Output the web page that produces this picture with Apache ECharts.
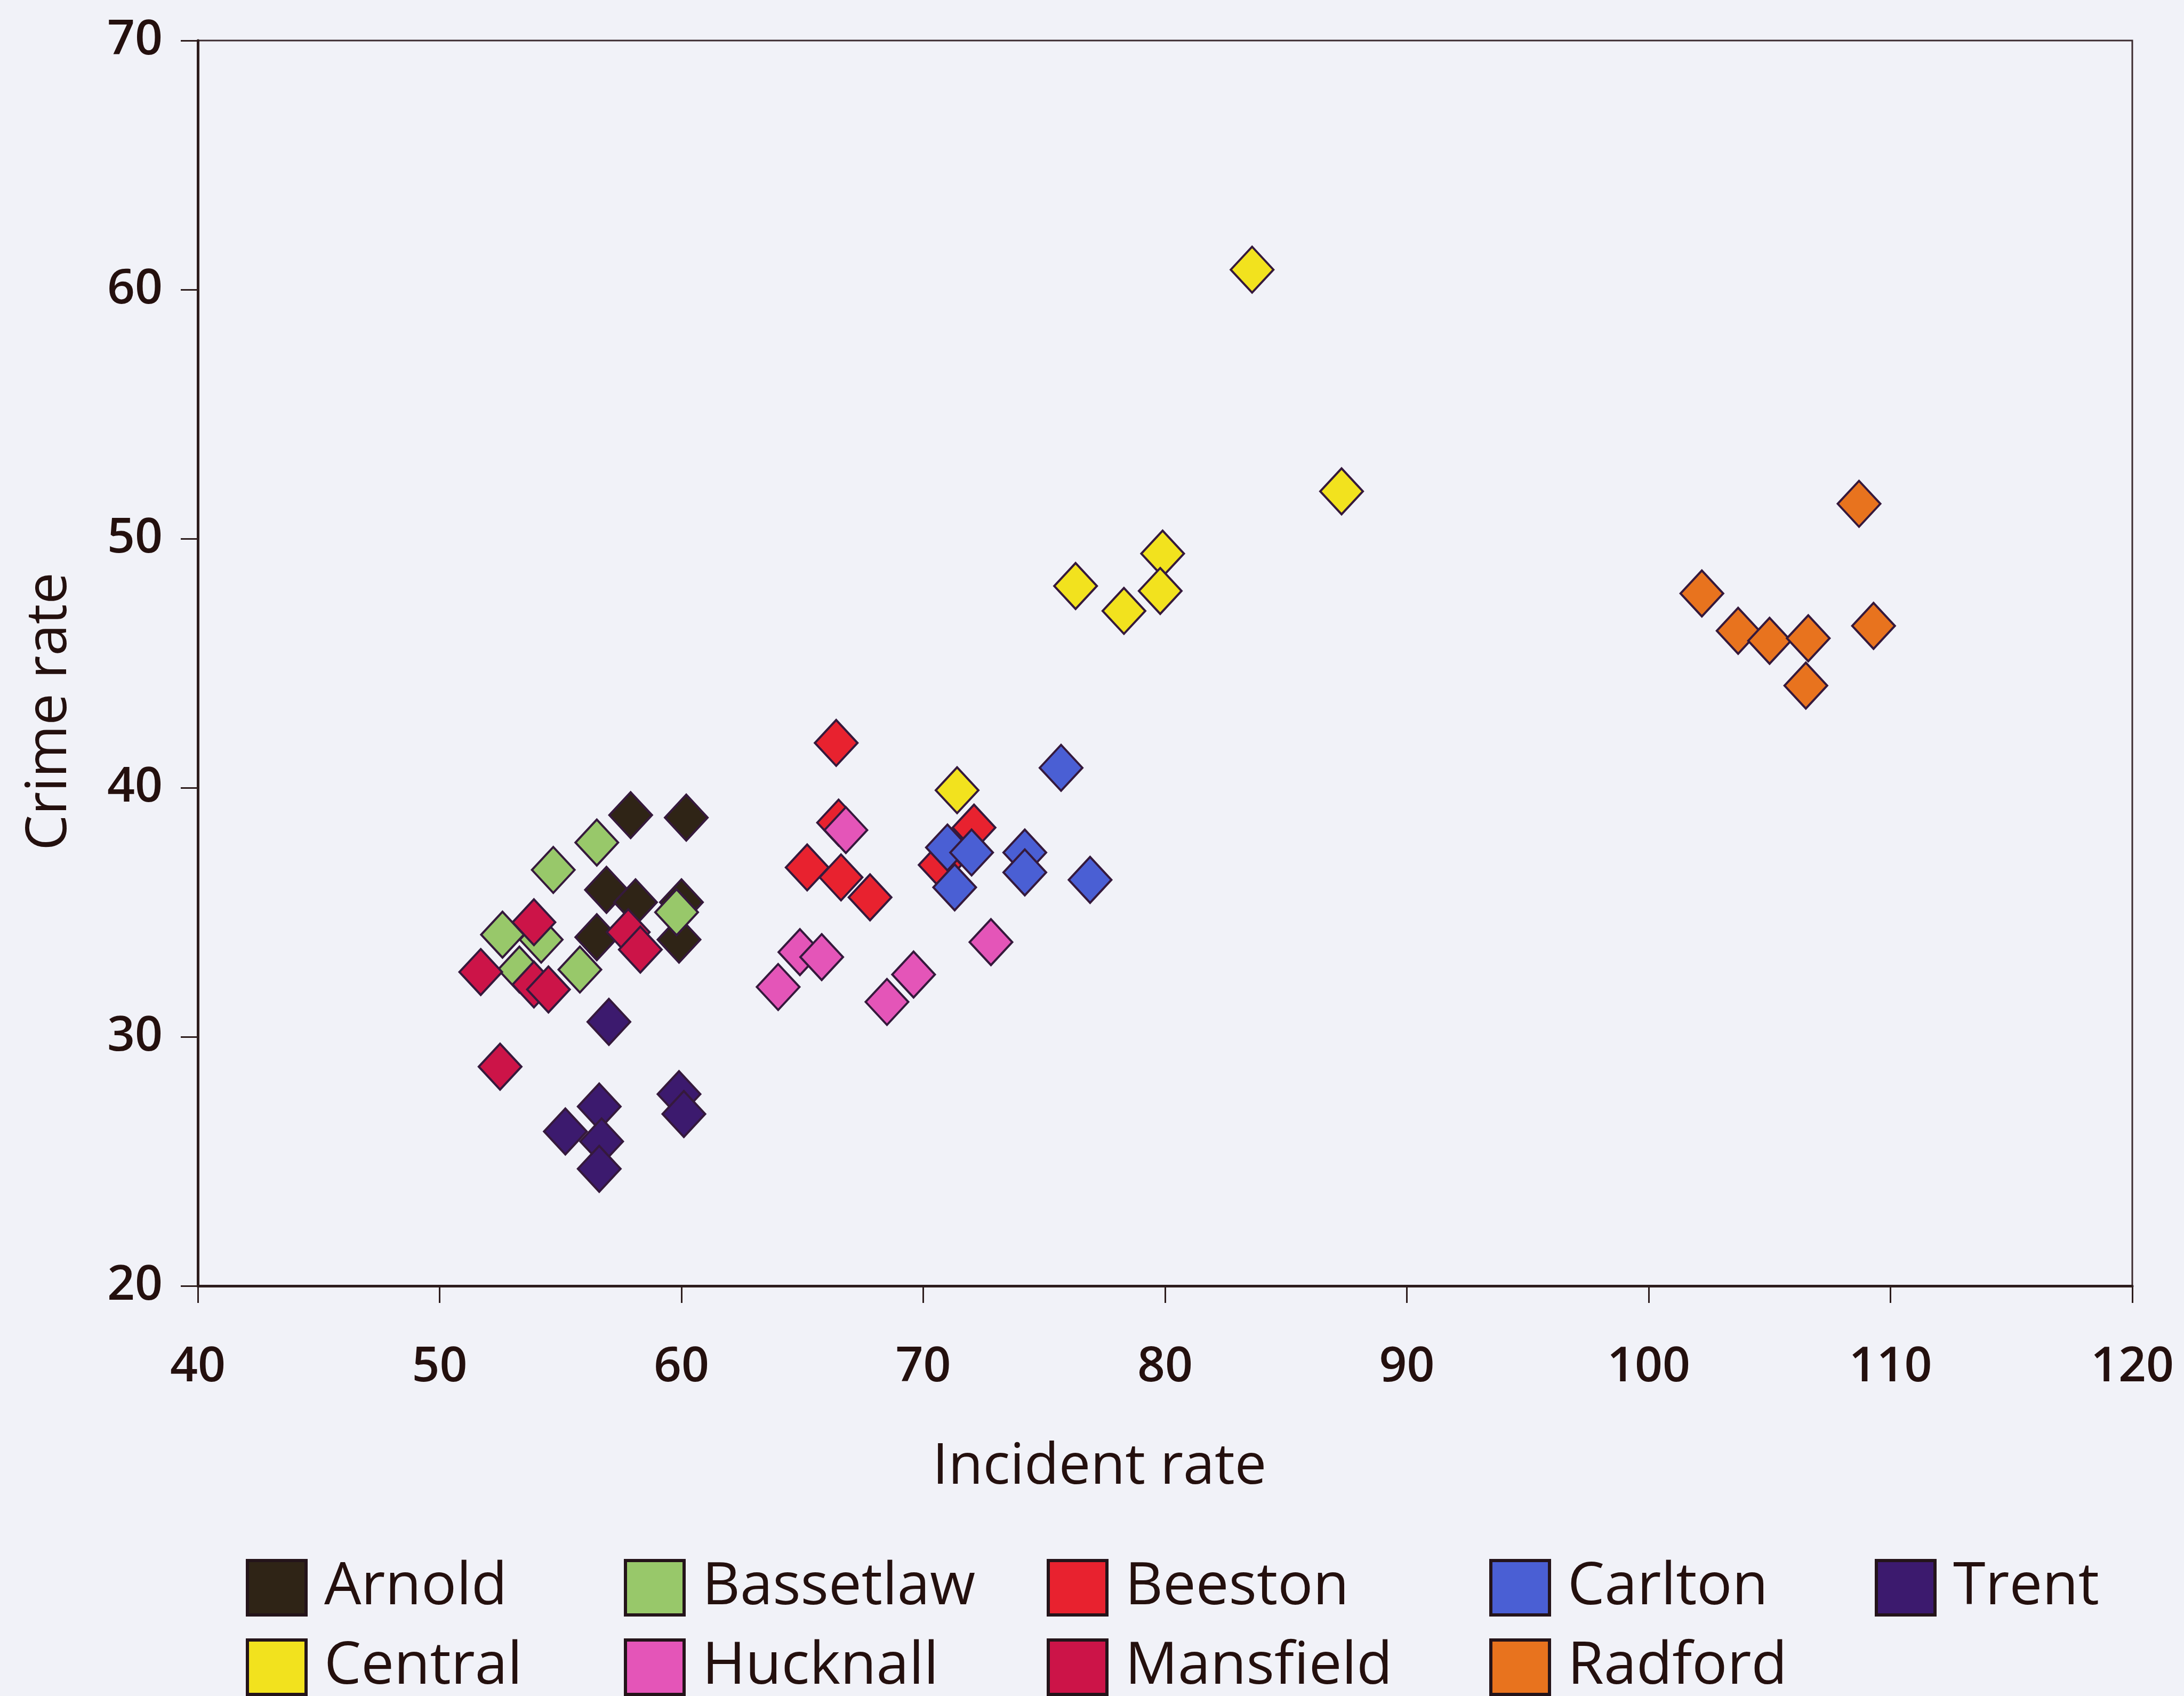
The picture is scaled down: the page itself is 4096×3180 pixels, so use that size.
<!DOCTYPE html>
<html>
<head>
<meta charset="utf-8">
<title>Crime rate vs incident rate</title>
<script src="https://cdn.jsdelivr.net/npm/echarts@6/dist/echarts.min.js"></script>
<style>
  html, body { margin: 0; padding: 0; background: #f1f2f8; }
  #chart { width: 4096px; height: 3180px; }
</style>
</head>
<body>
<div id="chart"></div>
<script>
// [incident rate, crime rate] per district
const arnold    = [[57.9, 38.9], [60.2, 38.8], [56.9, 35.9], [58.1, 35.4], [60.0, 35.4], [56.5, 34.0], [59.9, 33.9]];
const bassetlaw = [[56.5, 37.8], [54.7, 36.7], [59.8, 35.0], [52.6, 34.1], [54.2, 33.9], [53.3, 32.7], [55.8, 32.7]];
const beeston   = [[66.4, 41.8], [66.5, 38.6], [65.2, 36.8], [66.6, 36.4], [67.8, 35.6], [72.1, 38.4], [70.7, 36.9]];
const carlton   = [[75.7, 40.8], [71.0, 37.6], [72.0, 37.4], [71.3, 36.0], [74.2, 37.4], [74.2, 36.6], [76.9, 36.3]];
const central   = [[83.6, 60.8], [87.3, 51.9], [79.9, 49.4], [76.3, 48.1], [79.8, 47.9], [78.3, 47.1], [71.4, 39.9]];
const hucknall  = [[66.8, 38.3], [64.9, 33.4], [65.8, 33.2], [64.0, 32.0], [69.6, 32.5], [68.5, 31.4], [72.8, 33.8]];
const mansfield = [[53.9, 34.6], [57.8, 34.2], [58.3, 33.5], [51.7, 32.6], [53.9, 32.1], [54.5, 31.9], [52.5, 28.8]];
const radford   = [[108.7, 51.4], [102.2, 47.8], [103.7, 46.3], [105.0, 45.9], [106.6, 46.0], [109.3, 46.5], [106.5, 44.1]];
const trent     = [[57.0, 30.6], [56.6, 27.2], [55.2, 26.2], [56.7, 25.8], [56.6, 24.7], [59.9, 27.7], [60.1, 26.9]];

const districts = ['Arnold', 'Bassetlaw', 'Beeston', 'Carlton', 'Central', 'Hucknall', 'Mansfield', 'Radford', 'Trent'];
const districtData = [arnold, bassetlaw, beeston, carlton, central, hucknall, mansfield, radford, trent];
const districtColors = ['#2f2416', '#98c86a', '#e8222f', '#4a5fd4', '#f2e21e', '#e455b8', '#cc1448', '#e8731e', '#3c1a6e'];

const xTicks = { min: 40, max: 120, step: 10 };
const yTicks = { min: 20, max: 70, step: 10 };

const ink = '#24100e';
const axisInk = '#2d1d1d';
const font = '"Open Sans", "Lato", sans-serif';

// legend grid: columns and rows for each district
const legendCells = {
  Arnold: [0, 0], Bassetlaw: [1, 0], Beeston: [2, 0], Carlton: [3, 0], Trent: [4, 0],
  Central: [0, 1], Hucknall: [1, 1], Mansfield: [2, 1], Radford: [3, 1]
};
const legendColLeft = [461, 1170, 1963, 2793, 3516];
const legendRowTop = [2922, 3071];

const chart = echarts.init(document.getElementById('chart'), null, { renderer: 'canvas' });

const option = {
  backgroundColor: '#f1f2f8',
  animation: false,
  grid: {
    left: 371, right: 97, top: 76, bottom: 769,
    show: true, borderColor: '#3b2a2e', borderWidth: 3, backgroundColor: 'transparent'
  },
  xAxis: {
    type: 'value',
    min: xTicks.min, max: xTicks.max, interval: xTicks.step,
    axisLine: { show: true, onZero: false, lineStyle: { color: axisInk, width: 5 } },
    axisTick: { show: true, inside: false, length: 32, lineStyle: { color: axisInk, width: 3 } },
    axisLabel: { margin: 108, fontSize: 91, fontWeight: 600, fontFamily: font, color: ink },
    splitLine: { show: false }
  },
  yAxis: {
    type: 'value',
    min: yTicks.min, max: yTicks.max, interval: yTicks.step,
    axisLine: { show: true, onZero: false, lineStyle: { color: axisInk, width: 5 } },
    axisTick: { show: true, inside: false, length: 32, lineStyle: { color: axisInk, width: 3 } },
    axisLabel: { margin: 66, fontSize: 91, fontWeight: 600, fontFamily: font, color: ink },
    splitLine: { show: false }
  },
  graphic: [
    {
      type: 'text', x: 94, y: 1334, rotation: Math.PI / 2,
      style: { text: 'Crime rate', font: '500 106px ' + font, fill: ink, align: 'center', verticalAlign: 'middle' }
    },
    {
      type: 'text', x: 2062, y: 2752,
      style: { text: 'Incident rate', font: '500 106px ' + font, fill: ink, align: 'center', verticalAlign: 'middle' }
    }
  ],
  legend: districts.map(function (name) {
    const cell = legendCells[name];
    return {
      data: [name],
      left: legendColLeft[cell[0]],
      top: legendRowTop[cell[1]],
      orient: 'horizontal',
      padding: 0,
      icon: 'rect',
      itemWidth: 110,
      itemHeight: 102,
      selectedMode: false,
      itemStyle: { borderColor: '#24141a', borderWidth: 6 },
      textStyle: { fontSize: 110, fontWeight: 500, fontFamily: font, color: ink, lineHeight: 102, padding: [0, 0, 0, 29] }
    };
  }),
  series: districts.map(function (name, i) {
    return {
      name: name,
      type: 'scatter',
      data: districtData[i],
      symbol: 'diamond',
      symbolSize: [80, 86],
      itemStyle: { color: districtColors[i], borderColor: '#35193c', borderWidth: 4, opacity: 1 },
      emphasis: { disabled: true }
    };
  })
};

chart.setOption(option);
</script>
</body>
</html>
